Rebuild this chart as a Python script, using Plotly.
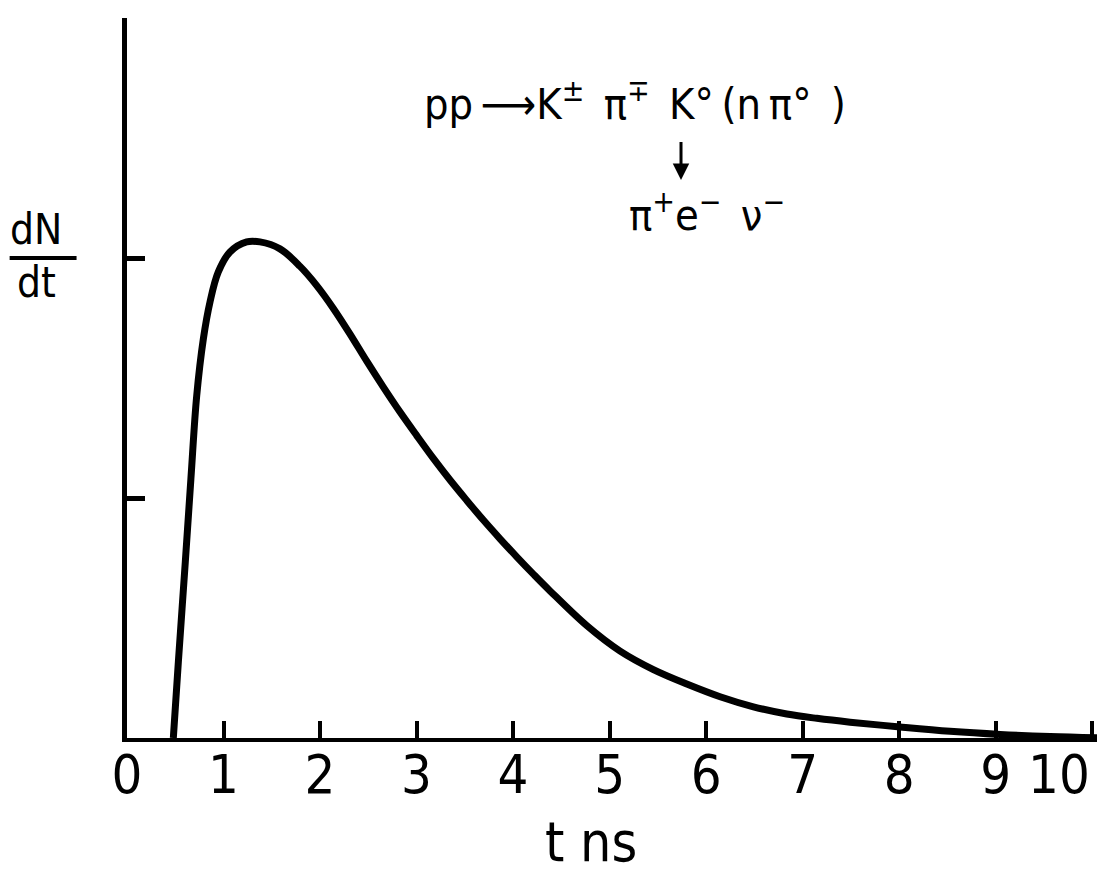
import plotly.graph_objects as go

# Decay-time distribution dN/dt versus t (ns)
t_ns = [0.480, 0.532, 0.604, 0.662, 0.722, 0.791, 0.860, 0.946, 1.067, 1.240,
        1.378, 1.585, 1.793, 1.966, 2.138, 2.311, 2.484, 2.656, 2.829, 3.002,
        3.174, 3.347, 3.520, 3.692, 3.865, 4.038, 4.210, 4.383, 4.764, 5.109,
        5.454, 5.800, 6.145, 6.490, 6.836, 7.147, 7.492, 8.010, 8.528, 9.047,
        9.565, 10.05]
dn_dt = [0.0, 0.317, 0.733, 1.079, 1.425, 1.663, 1.817, 1.942, 2.025, 2.067,
         2.067, 2.038, 1.965, 1.885, 1.790, 1.683, 1.570, 1.462, 1.358, 1.260,
         1.165, 1.075, 0.990, 0.908, 0.830, 0.755, 0.683, 0.613, 0.468, 0.362,
         0.285, 0.225, 0.172, 0.130, 0.100, 0.082, 0.066, 0.046, 0.028, 0.015,
         0.006, 0.001]

x_ticks = list(range(0, 11))
# the last label sits flush left of its tick, so it is placed separately
x_ticktext = [str(v) for v in x_ticks[:-1]] + [""]
last_tick = x_ticks[-1]
y_ticks = [1, 2, 3]

FONT = "DejaVu Sans Condensed, DejaVu Sans, sans-serif"
DIGITS = "Liberation Sans Narrow, DejaVu Sans Condensed, sans-serif"

fig = go.Figure()
fig.add_trace(go.Scatter(
    x=t_ns, y=dn_dt, mode="lines",
    line=dict(color="black", width=7, shape="spline", smoothing=1.0),
    hoverinfo="skip", showlegend=False,
))

# reaction label
fig.add_annotation(
    x=3.06, y=2.655, xref="x", yref="y", xanchor="left", yanchor="middle",
    text="pp\u2009\u27f6K<sup>\u00b1</sup>\u2002\u03c0<sup>\u2213</sup>\u2002"
         "K\u00b0\u2009(n\u2009\u03c0\u00b0\u2002)",
    showarrow=False, font=dict(family=FONT, size=43, color="black"),
)
# decay arrow
fig.add_annotation(
    x=5.74, y=2.325, ax=5.74, ay=2.49, xref="x", yref="y", axref="x", ayref="y",
    text="", showarrow=True, arrowhead=2, arrowsize=1.1, arrowwidth=3,
    arrowcolor="black",
)
fig.add_annotation(
    x=5.18, y=2.19, xref="x", yref="y", xanchor="left", yanchor="middle",
    text="\u03c0<sup>+</sup>e<sup>\u2212</sup>\u2002\u03bd<sup>\u2212</sup>",
    showarrow=False, font=dict(family=FONT, size=43, color="black"),
)

# y-axis title as a fraction dN / dt
fig.add_annotation(
    x=-0.0935, y=2.117, xref="paper", yref="y", xanchor="center", yanchor="middle",
    text="dN", showarrow=False, font=dict(family=FONT, size=42, color="black"),
)
fig.add_annotation(
    x=-0.0935, y=1.90, xref="paper", yref="y", xanchor="center", yanchor="middle",
    text="dt", showarrow=False, font=dict(family=FONT, size=42, color="black"),
)
fig.add_shape(
    type="line", xref="paper", yref="y", x0=-0.121, x1=-0.052, y0=2.0, y1=2.0,
    line=dict(color="black", width=4),
)

# label of the last x tick, right-aligned to the tick
fig.add_annotation(
    x=last_tick, y=-0.05, xref="x", yref="paper", xanchor="right", yanchor="middle",
    text=str(last_tick), showarrow=False,
    font=dict(family=DIGITS, size=54, color="black"),
)

# x-axis title
fig.add_annotation(
    x=0.478, y=-0.144, xref="paper", yref="paper", xanchor="center", yanchor="middle",
    text="t ns", showarrow=False, font=dict(family=FONT, size=55, color="black"),
)

fig.update_xaxes(
    range=[0, 10.05], showline=True, linecolor="black", linewidth=4,
    ticks="inside", tickvals=x_ticks, ticktext=x_ticktext,
    ticklen=17, tickwidth=4, tickcolor="black",
    tickfont=dict(family=DIGITS, size=54, color="black"),
    ticklabelstandoff=-14, automargin=False,
    showgrid=False, zeroline=False,
)
fig.update_yaxes(
    range=[0, 3], showline=True, linecolor="black", linewidth=5,
    ticks="inside", tickvals=y_ticks, ticklen=18, tickwidth=5, tickcolor="black",
    showticklabels=False, showgrid=False, zeroline=False, automargin=False,
)
fig.update_layout(
    width=1107, height=870,
    margin=dict(l=127, r=10, t=18, b=132, autoexpand=False),
    plot_bgcolor="white", paper_bgcolor="white",
)

fig.write_html("out.html")
